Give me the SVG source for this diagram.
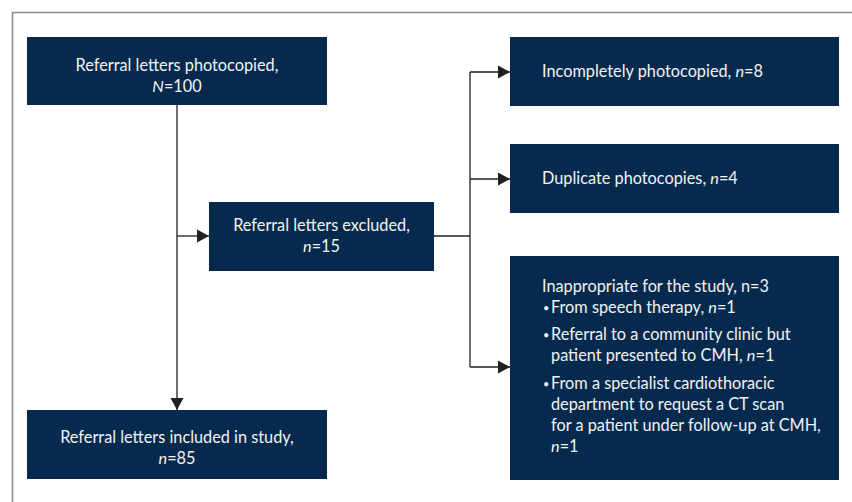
<svg xmlns="http://www.w3.org/2000/svg" width="852" height="502" viewBox="0 0 852 502">
<style>
.box{fill:#062a4d}
.t{font-family:Lato,"Open Sans","Liberation Sans",sans-serif;font-size:16.3px;fill:#f2f2f2}
.b{font-family:Lato,"Liberation Sans",sans-serif;font-size:11px;fill:#f2f2f2}
.c{text-anchor:middle}
.i{font-style:italic}
.ln{fill:none;stroke:#231f20;stroke-width:1.3}
</style>
<defs>
<marker id="ah" markerUnits="userSpaceOnUse" markerWidth="13" markerHeight="14" refX="12" refY="7" orient="auto">
<path d="M0,0.5 L12,7 L0,13.5 Z" fill="#231f20"/>
</marker>
</defs>
<rect x="0" y="0" width="852" height="502" fill="#ffffff"/>
<path d="M12.5,502 V12.5 H852" fill="none" stroke="#8c8c8c" stroke-width="1.6"/>
<g id="connectors">
<path class="ln" d="M177,105 V410" marker-end="url(#ah)"/>
<path class="ln" d="M177,236 H209" marker-end="url(#ah)"/>
<path class="ln" d="M434,236 H470"/>
<path class="ln" d="M470,72 V367"/>
<path class="ln" d="M470,72 H510" marker-end="url(#ah)"/>
<path class="ln" d="M470,179 H510" marker-end="url(#ah)"/>
<path class="ln" d="M470,367 H510" marker-end="url(#ah)"/>
</g>
<g id="n1">
<rect class="box" x="27" y="37" width="300" height="68"/>
<text class="t c" x="177" y="71">Referral letters photocopied,</text>
<text class="t c" x="177" y="92"><tspan class="i">N</tspan>=100</text>
</g>
<g id="n2">
<rect class="box" x="209" y="202" width="225" height="69"/>
<text class="t c" x="321.5" y="231">Referral letters excluded,</text>
<text class="t c" x="321.5" y="252"><tspan class="i">n</tspan>=15</text>
</g>
<g id="n3">
<rect class="box" x="27" y="410" width="300" height="69"/>
<text class="t c" x="177" y="443">Referral letters included in study,</text>
<text class="t c" x="177" y="464"><tspan class="i">n</tspan>=85</text>
</g>
<g id="n4">
<rect class="box" x="510" y="37" width="329" height="69"/>
<text class="t" x="542" y="77">Incompletely photocopied, <tspan class="i">n</tspan>=8</text>
</g>
<g id="n5">
<rect class="box" x="510" y="144" width="329" height="69"/>
<text class="t" x="542" y="184">Duplicate photocopies, <tspan class="i">n</tspan>=4</text>
</g>
<g id="n6">
<rect class="box" x="510" y="256" width="329" height="224"/>
<text class="t" x="542" y="292">Inappropriate for the study, n=3</text>
<text class="b" x="543" y="312">•</text>
<text class="t" x="551" y="313">From speech therapy, <tspan class="i">n</tspan>=1</text>
<text class="b" x="543" y="339">•</text>
<text class="t" x="551" y="340">Referral to a community clinic but</text>
<text class="t" x="551" y="361">patient presented to CMH, <tspan class="i">n</tspan>=1</text>
<text class="b" x="543" y="388">•</text>
<text class="t" x="551" y="389">From a specialist cardiothoracic</text>
<text class="t" x="551" y="410">department to request a CT scan</text>
<text class="t" x="551" y="431">for a patient under follow-up at CMH,</text>
<text class="t" x="551" y="452"><tspan class="i">n</tspan>=1</text>
</g>
</svg>
